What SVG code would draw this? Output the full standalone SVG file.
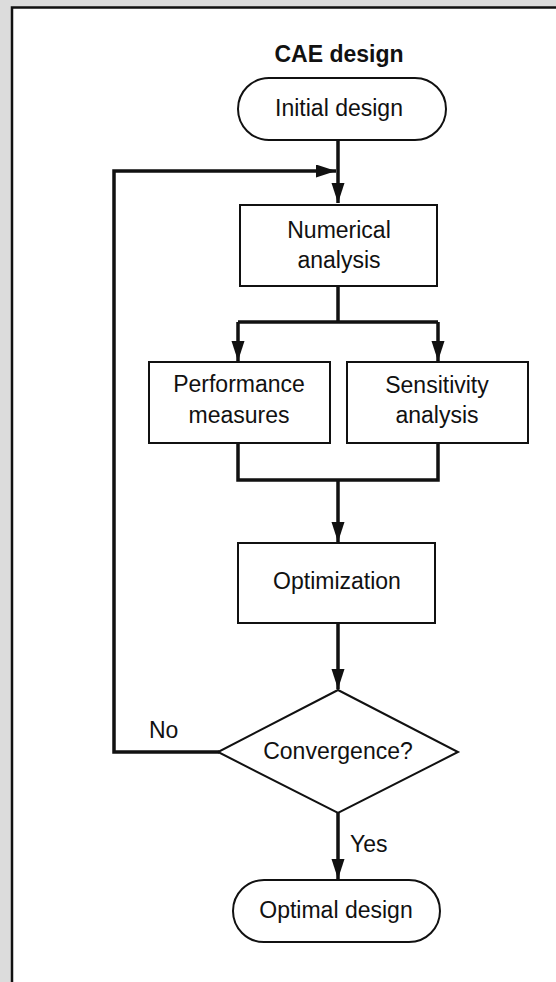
<svg xmlns="http://www.w3.org/2000/svg" width="556" height="982" viewBox="0 0 556 982">
  <style>
    .box { fill: #ffffff; stroke: #111111; stroke-width: 2; }
    .lbl { font-family: "Liberation Sans", Arial, sans-serif; font-size: 23px; fill: #111111; text-anchor: middle; }
    .side { font-family: "Liberation Sans", Arial, sans-serif; font-size: 23px; fill: #111111; }
    .title { font-family: "Liberation Sans", Arial, sans-serif; font-size: 23px; font-weight: bold; fill: #111111; text-anchor: middle; }
    .conn { fill: none; stroke: #111111; stroke-width: 3.5; stroke-linejoin: miter; }
  </style>
  <defs>
    <marker id="arrow" markerUnits="userSpaceOnUse" markerWidth="22" markerHeight="14" refX="20" refY="6.5" orient="auto">
      <path d="M0,0 L20,6.5 L0,13 Z" fill="#111111"/>
    </marker>
  </defs>

  <!-- frame -->
  <rect x="0" y="0" width="556" height="982" fill="#dcdcdc"/>
  <rect x="12" y="7" width="560" height="990" fill="#ffffff"/>
  <path d="M12,982 V7.5 H556" fill="none" stroke="#111111" stroke-width="2.5"/>

  <text class="title" x="339" y="62">CAE design</text>

  <g id="connectors">
    <path class="conn" d="M338,140 V203" marker-end="url(#arrow)"/>
    <path class="conn" d="M219,752 H114 V171 H336" marker-end="url(#arrow)"/>
    <path class="conn" d="M338,286 V322"/>
    <path class="conn" d="M238,322 H438"/>
    <path class="conn" d="M238,322 V361" marker-end="url(#arrow)"/>
    <path class="conn" d="M438,322 V361" marker-end="url(#arrow)"/>
    <path class="conn" d="M238,443 V480 H438 V443"/>
    <path class="conn" d="M338,480 V542" marker-end="url(#arrow)"/>
    <path class="conn" d="M338,623 V689" marker-end="url(#arrow)"/>
    <path class="conn" d="M338,813 V879" marker-end="url(#arrow)"/>
    <text class="side" x="149" y="738">No</text>
    <text class="side" x="350" y="852">Yes</text>
  </g>

  <g id="initial-design">
    <rect class="box" x="238" y="78" width="208" height="62" rx="31" ry="31"/>
    <text class="lbl" x="339" y="116">Initial design</text>
  </g>

  <g id="numerical-analysis">
    <rect class="box" x="240" y="205" width="197" height="81"/>
    <text class="lbl" x="339" y="238">Numerical</text>
    <text class="lbl" x="339" y="268">analysis</text>
  </g>

  <g id="performance-measures">
    <rect class="box" x="149" y="362" width="181" height="81"/>
    <text class="lbl" x="239" y="392">Performance</text>
    <text class="lbl" x="239" y="423">measures</text>
  </g>

  <g id="sensitivity-analysis">
    <rect class="box" x="347" y="362" width="181" height="81"/>
    <text class="lbl" x="437" y="393">Sensitivity</text>
    <text class="lbl" x="437" y="423">analysis</text>
  </g>

  <g id="optimization">
    <rect class="box" x="238" y="543" width="197" height="80"/>
    <text class="lbl" x="337" y="589">Optimization</text>
  </g>

  <g id="convergence">
    <polygon class="box" points="338,690 458,752 338,813 218,752"/>
    <text class="lbl" x="338" y="759">Convergence?</text>
  </g>

  <g id="optimal-design">
    <rect class="box" x="233" y="880" width="207" height="62" rx="31" ry="31"/>
    <text class="lbl" x="336" y="918">Optimal design</text>
  </g>
</svg>
